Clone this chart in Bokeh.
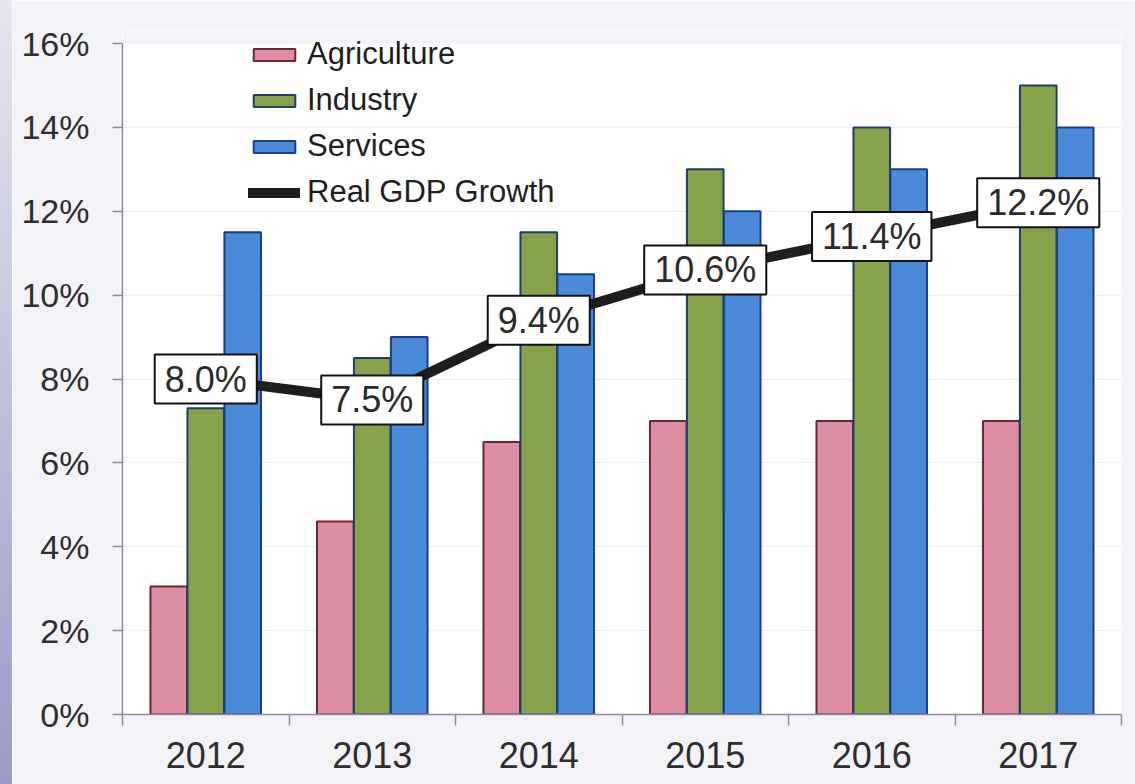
from bokeh.plotting import figure
from bokeh.models import (ColumnDataSource, Range1d, FixedTicker, Label,
                          Legend, LegendItem, Div, BoxAnnotation)
from bokeh.layouts import row
from bokeh.transform import dodge
from bokeh.embed import file_html
from bokeh.resources import INLINE

years = ["2012", "2013", "2014", "2015", "2016", "2017"]
agriculture = [3.05, 4.6, 6.5, 7.0, 7.0, 7.0]
industry = [7.3, 8.5, 11.5, 13.0, 14.0, 15.0]
services = [11.5, 9.0, 10.5, 12.0, 13.0, 14.0]
gdp_growth = [8.0, 7.5, 9.4, 10.6, 11.4, 12.2]
y_ticks = [0, 2, 4, 6, 8, 10, 12, 14, 16]
y_tick_labels = [f"{t}%" for t in y_ticks]
gdp_labels = [f"{v:.1f}%" for v in gdp_growth]

FONT = "Liberation Sans"
pos = [i + 0.5 for i in range(len(years))]
src = ColumnDataSource(dict(x=pos, year=years, agr=agriculture, ind=industry,
                            srv=services, gdp=gdp_growth, lab=gdp_labels))

STRIP = 12
H = 784
TOP_AXIS_PX = 43      # where 16% sits
FRAME_TOP = 30        # frame extended upward so the legend is not clipped
BOTTOM = 70
Y_MAX = y_ticks[-1]
y_top = Y_MAX * (H - BOTTOM - FRAME_TOP) / (H - BOTTOM - TOP_AXIS_PX)

p = figure(width=1135 - STRIP, height=H, x_range=Range1d(0, len(years)), y_range=Range1d(0, y_top),
           output_backend="svg", toolbar_location=None,
           min_border_left=122 - STRIP, min_border_right=14, min_border_top=FRAME_TOP,
           min_border_bottom=BOTTOM)
p.background_fill_color = "#ffffff"
p.border_fill_color = "#f3f3f7"
p.outline_line_color = None
p.add_layout(BoxAnnotation(bottom=Y_MAX, fill_color="#f3f3f7", fill_alpha=1,
                           line_color=None, level="underlay"))

bw = 0.22
off = 0.222
r_agr = p.vbar(x=dodge("x", -off, range=p.x_range), top="agr", width=bw, source=src,
               fill_color="#dc8ea2", line_color="#6e2434", line_width=2)
r_ind = p.vbar(x="x", top="ind", width=bw, source=src,
               fill_color="#86a34c", line_color="#1f3d66", line_width=2)
r_srv = p.vbar(x=dodge("x", off, range=p.x_range), top="srv", width=bw, source=src,
               fill_color="#4b89d9", line_color="#1b3f80", line_width=2)
r_gdp = p.line("x", "gdp", source=src, line_width=10, line_color="#1e1e1e",
               line_cap="round", line_join="round")

for xv, yv, txt in zip(pos, gdp_growth, gdp_labels):
    p.add_layout(Label(x=xv, y=yv, text=txt, text_align="center", text_baseline="middle",
                       text_font_size="36px", text_font=FONT, text_color="#2a2a2a",
                       background_fill_color="#ffffff", border_line_color="#111111",
                       border_line_width=2,
                       padding={"left": 10, "right": 10, "top": 4, "bottom": 4}))

# axes
p.xgrid.grid_line_color = None
p.ygrid.grid_line_color = "#ececf2"
p.ygrid.ticker = FixedTicker(ticks=y_ticks[:-1])

xa = p.xaxis[0]
xa.ticker = FixedTicker(ticks=pos, minor_ticks=list(range(len(years) + 1)))
xa.major_label_overrides = {x: y for x, y in zip(pos, years)}
xa.major_tick_out = 0
xa.major_tick_in = 0
xa.minor_tick_out = 11
xa.minor_tick_in = 0
xa.minor_tick_line_color = "#8a8aa6"
xa.minor_tick_line_width = 1.5
xa.major_label_standoff = 16
xa.major_label_text_font_size = "36px"

ya = p.yaxis[0]
ya.bounds = (0, Y_MAX)
ya.ticker = FixedTicker(ticks=y_ticks)
ya.major_label_overrides = {t: l for t, l in zip(y_ticks, y_tick_labels)}
ya.major_tick_out = 10
ya.major_tick_in = 0
ya.minor_tick_out = 0
ya.minor_tick_in = 0
ya.major_label_standoff = 23
ya.major_label_text_font_size = "34px"
ya.major_tick_line_color = "#8a8aa6"
ya.major_tick_line_width = 1.5

for ax in (xa, ya):
    ax.axis_line_color = "#8a8aa6"
    ax.axis_line_width = 1.5
    ax.major_label_text_font = FONT
    ax.major_label_text_color = "#2e2e2e"

legend = Legend(items=[LegendItem(label="Agriculture", renderers=[r_agr]),
                       LegendItem(label="Industry", renderers=[r_ind]),
                       LegendItem(label="Services", renderers=[r_srv]),
                       LegendItem(label="Real GDP Growth", renderers=[r_gdp])],
                location=(126, 504), padding=0, margin=0, spacing=10,
                glyph_width=52, glyph_height=15, label_standoff=7,
                label_text_font=FONT, label_text_font_size="31px", label_text_color="#1e1e1e",
                border_line_color=None, background_fill_alpha=0)
p.add_layout(legend)

strip = Div(text="", width=STRIP, height=H,
            styles={"background": "linear-gradient(#e6e6f0, #c4c4de 45%, #9a9ac6)",
                    "margin": "0", "padding": "0"})
layout = row(strip, p, spacing=0)

open("out.html", "w").write(file_html(layout, INLINE))
